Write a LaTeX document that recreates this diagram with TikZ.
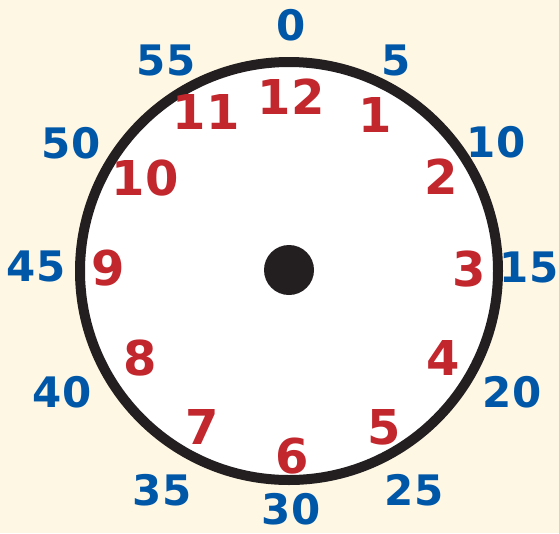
\documentclass[tikz,border=0pt]{standalone}
\usepackage{fontspec}
\setmainfont{DejaVu Sans}
\usepackage{xcolor}
\definecolor{bgcream}{HTML}{FDF7E4}
\definecolor{ringblack}{HTML}{231F20}
\definecolor{hourred}{HTML}{C1272D}
\definecolor{minblue}{HTML}{0057A8}

\tikzset{
  hournum/.style={text=hourred, font=\fontsize{48}{48}\selectfont\bfseries, inner sep=0pt},
  minnum/.style={text=minblue, font=\fontsize{42}{42}\selectfont\bfseries, inner sep=0pt}
}

\begin{document}
\begin{tikzpicture}[x=1pt, y=-1pt]
\fill[bgcream] (0,0) rectangle (559,533);
\useasboundingbox (0,0) rectangle (559,533);

% clock face
\node[circle, fill=white, draw=ringblack, line width=10pt,
      minimum size=418pt, inner sep=0pt] (face) at (289,271) {};
\node[circle, fill=ringblack, minimum size=50pt, inner sep=0pt] (hub) at (289,270) {};

% hours
\foreach \h/\x/\y in {12/291/97, 1/375/115, 2/441/177, 3/469/269,
                      4/443/358, 5/384/427, 6/292/456, 7/202/427,
                      8/140/358, 9/108/268, 10/145/178, 11/206/112}
  \node[hournum] (h\h) at (\x,\y) {\h};

% minutes
\foreach \m/\x/\y in {0/291/25, 5/396/60, 10/496/142, 15/529/267,
                      20/512/392, 25/414/490, 30/291/509, 35/162/490,
                      40/62/392, 45/36/266, 50/71/143, 55/166/60}
  \node[minnum] (m\m) at (\x,\y) {\m};
\end{tikzpicture}
\end{document}
